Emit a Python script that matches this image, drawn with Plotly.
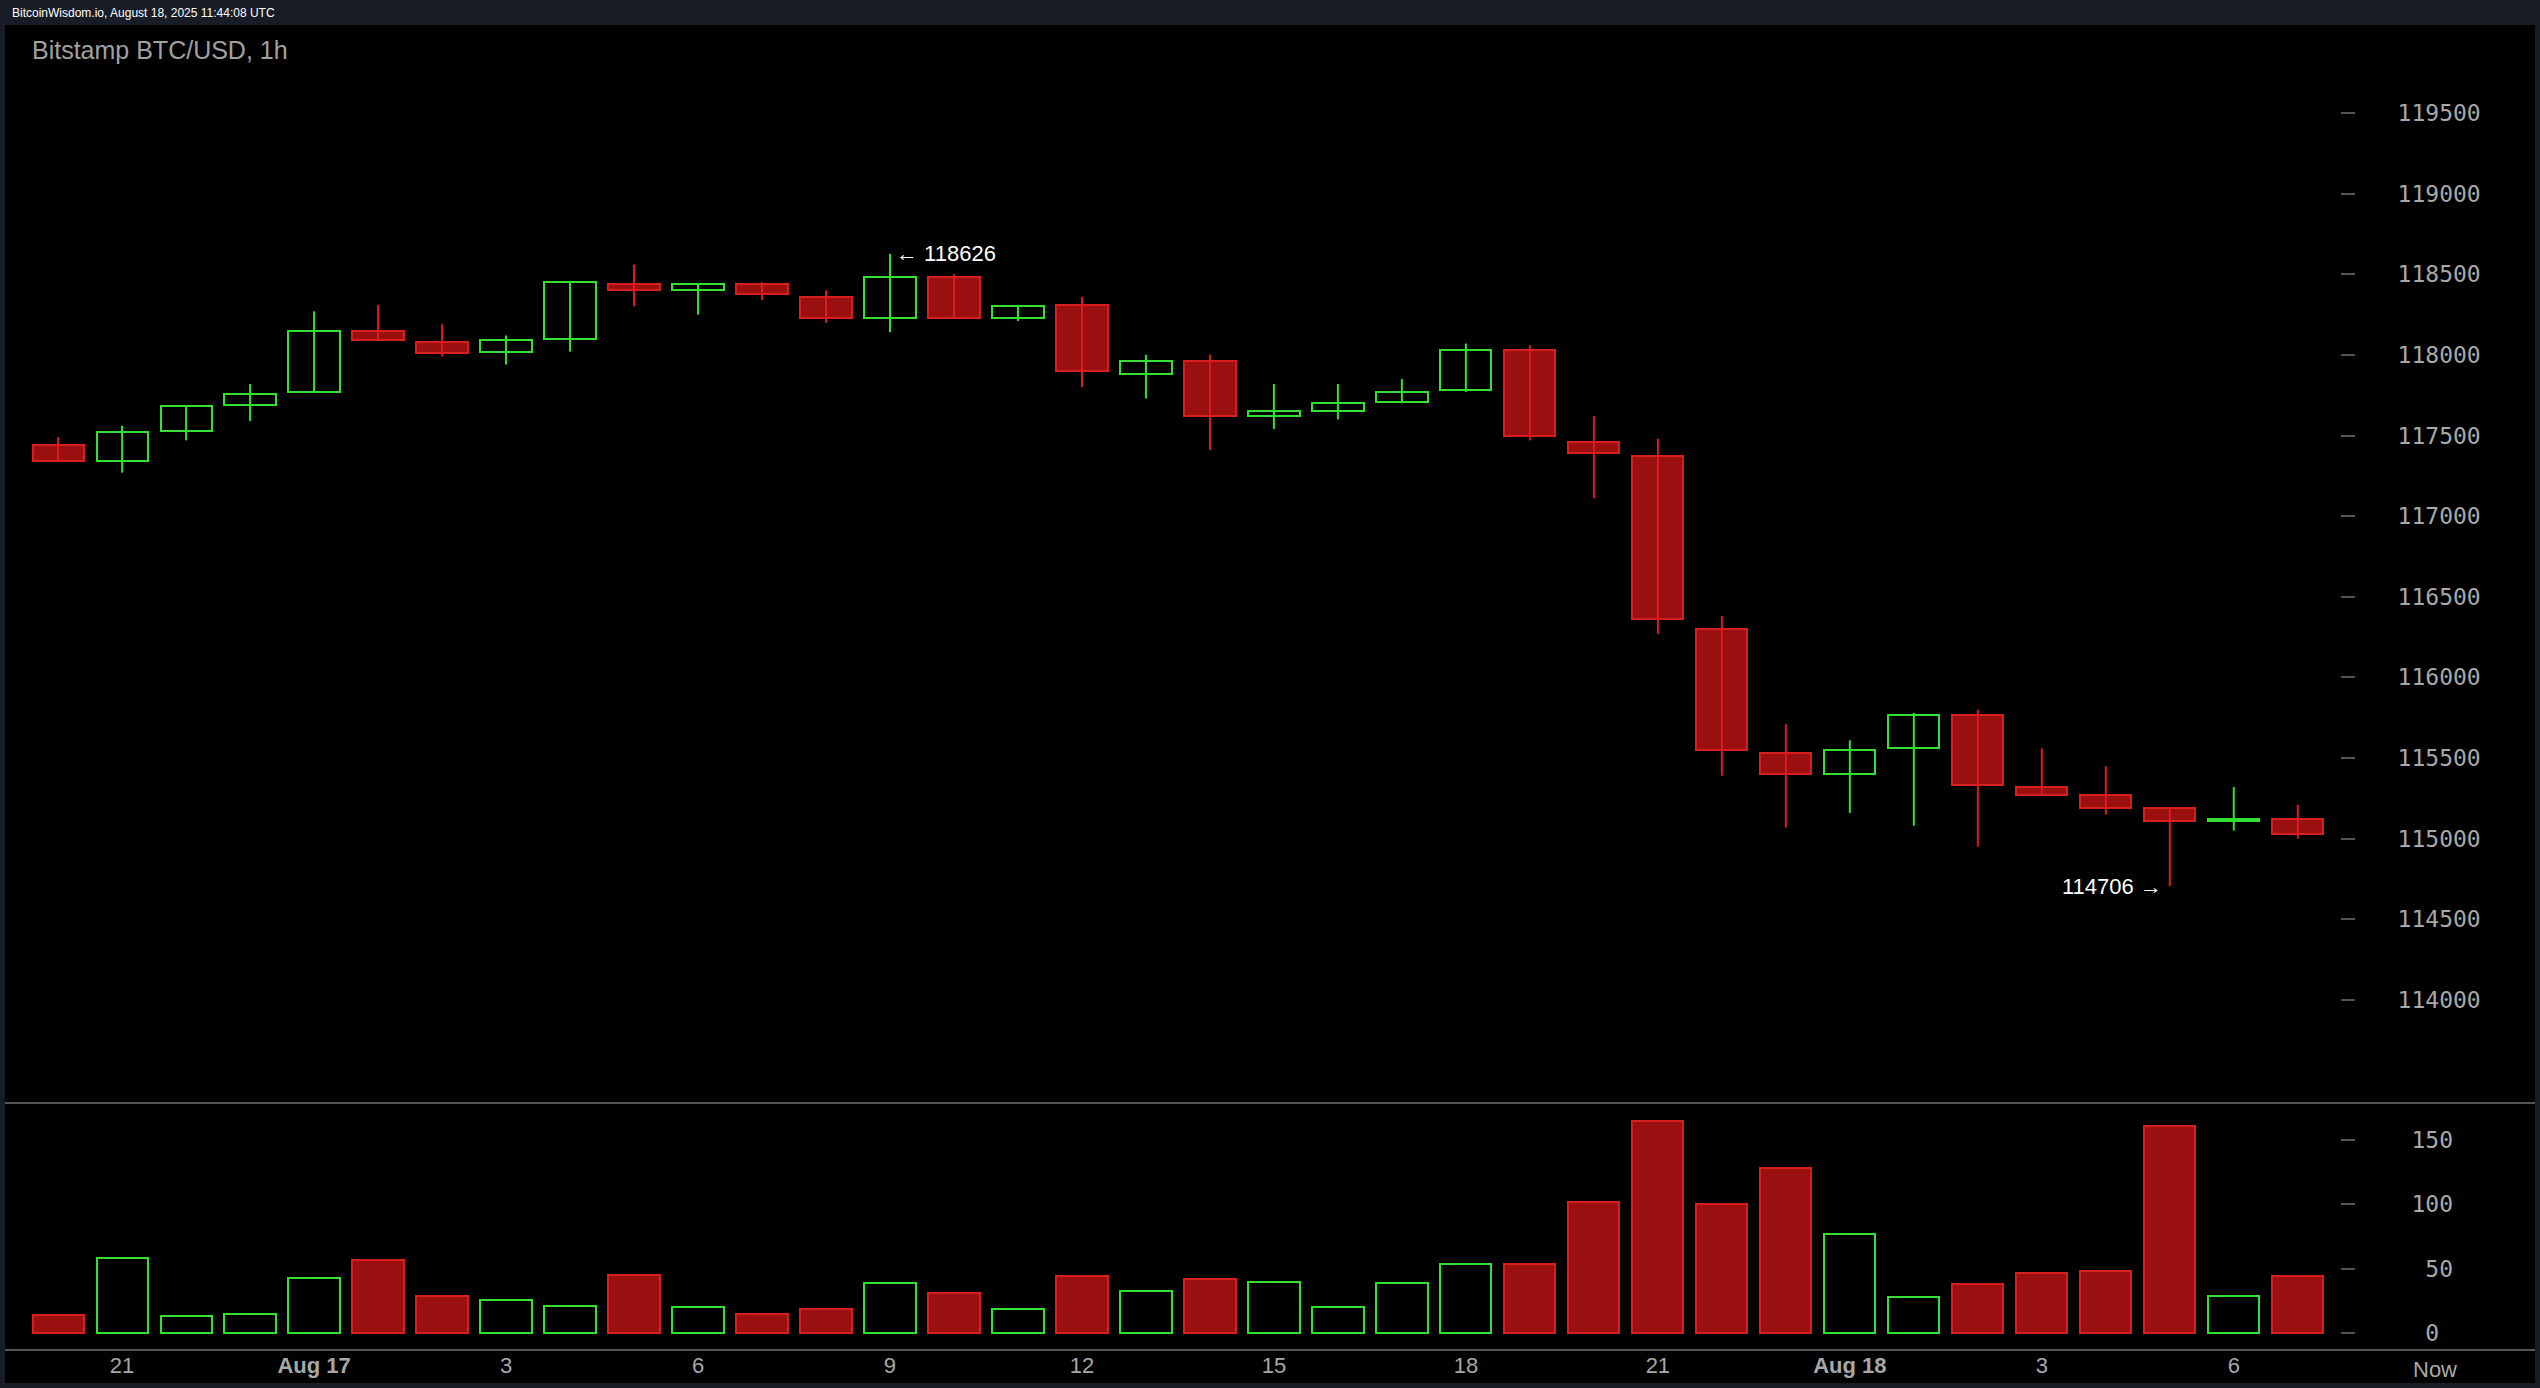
import plotly.graph_objects as go

W, H = 2540, 1388
hours = ["20","21","22","23","0","1","2","3","4","5","6","7","8","9","10","11","12","13","14","15","16","17","18","19","20","21","22","23","0","1","2","3","4","5","6","7"]
opens  = [117440,117340,117530,117690,117770,118150,118080,118020,118100,118440,118400,118440,118360,118230,118480,118230,118310,117880,117960,117620,117650,117710,117780,118030,117460,117370,116300,115530,115400,115560,115770,115320,115270,115190,115110,115120]
closes = [117340,117520,117680,117760,118150,118090,118010,118090,118450,118400,118440,118380,118230,118480,118230,118300,117900,117960,117620,117650,117700,117770,118030,117500,117390,116360,115550,115400,115550,115770,115330,115270,115190,115110,115120,115030]
highs  = [117490,117560,117680,117820,118270,118310,118190,118120,118450,118560,118440,118450,118400,118626,118500,118310,118360,118000,118000,117820,117820,117850,118070,118060,117620,117480,116380,115710,115610,115780,115800,115560,115450,115190,115320,115210]
lows   = [117340,117270,117470,117590,117770,118090,117990,117940,118020,118300,118250,118340,118200,118140,118230,118210,117800,117730,117410,117540,117600,117700,117770,117470,117110,116270,115390,115070,115160,115080,114950,115270,115150,114706,115050,115000]
volumes = [14,58,13,15,43,57,29,26,21,45,20,15,19,39,31,19,44,33,42,40,20,39,54,54,102,165,100,128,77,28,38,47,48,161,29,44]
price_ticks = [114000,114500,115000,115500,116000,116500,117000,117500,118000,118500,119000,119500]
price_labels = [str(v) for v in price_ticks]
vol_ticks = [0,50,100,150]
vol_labels = ["\u00a0\u00a00","\u00a0\u00a050","\u00a0100","\u00a0150"]

RED_FILL, RED_LINE, GREEN = "#9a0f0f", "#d81e1e", "#33e033"
n = len(opens)
xs = list(range(n))
up = [c >= o for o, c in zip(opens, closes)]

fig = go.Figure()
for is_up, col in [(True, GREEN), (False, RED_LINE)]:
    wx, wy = [], []
    for i in xs:
        if up[i] == is_up:
            wx += [i, i, None]; wy += [lows[i], highs[i], None]
    fig.add_trace(go.Scatter(x=wx, y=wy, mode="lines", line=dict(color=col, width=2), hoverinfo="skip", showlegend=False))
for is_up, fill, col in [(True, "#000000", GREEN), (False, RED_FILL, RED_LINE)]:
    idx = [i for i in xs if up[i] == is_up]
    fig.add_trace(go.Bar(x=idx, base=[min(opens[i], closes[i]) for i in idx],
                         y=[max(abs(closes[i]-opens[i]), 8) for i in idx], width=0.8,
                         marker=dict(color=fill, line=dict(color=col, width=2)), showlegend=False))
    fig.add_trace(go.Bar(x=idx, y=[volumes[i] for i in idx], width=0.8, xaxis="x2", yaxis="y2",
                         marker=dict(color=fill, line=dict(color=col, width=2)), showlegend=False))

xr = [-0.83, 35.66]
tick_idx = [i for i in xs if int(hours[i]) % 3 == 0]
tick_txt = [("<b>Aug 17</b>" if i < 20 else "<b>Aug 18</b>") if hours[i] == "0" else hours[i] for i in tick_idx]
dom_x = [5/W, 2340/W]
gray = "#a8a8a8"
fig.update_layout(
    width=W, height=H, margin=dict(l=0, r=0, t=0, b=0),
    paper_bgcolor="#181c27", plot_bgcolor="#000000", barmode="overlay", bargap=0,
    font=dict(family="Liberation Sans", color=gray, size=22),
    xaxis=dict(domain=dom_x, range=xr, showticklabels=False, showgrid=False, zeroline=False, anchor="y"),
    yaxis=dict(domain=[1-1103/H, 1-72/H], range=[113361, 119754], side="right", tickvals=price_ticks, ticktext=price_labels,
               showgrid=False, zeroline=False, ticks="outside", ticklen=14, tickcolor="#555", tickwidth=2,
               ticklabelstandoff=38, tickfont=dict(family="DejaVu Sans Mono", size=23, color=gray), anchor="x"),
    xaxis2=dict(domain=dom_x, range=xr, tickvals=tick_idx, ticktext=tick_txt, showgrid=False, zeroline=False,
                anchor="y2", tickfont=dict(size=22, color=gray)),
    yaxis2=dict(domain=[1-1350/H, 1-1103/H], range=[-13.2, 178.8], side="right", tickvals=vol_ticks, ticktext=vol_labels,
                showgrid=False, zeroline=False, ticks="outside", ticklen=14, tickcolor="#555", tickwidth=2,
                ticklabelstandoff=38, tickfont=dict(family="DejaVu Sans Mono", size=23, color=gray), anchor="x2"),
)
fig.add_shape(type="rect", xref="paper", yref="paper", x0=5/W, x1=2535/W, y0=1-1383/H, y1=1-25/H,
              fillcolor="#000000", line=dict(width=0), layer="below")
for yy in [1103, 1350]:
    fig.add_shape(type="line", xref="paper", yref="paper", x0=5/W, x1=2535/W, y0=1-yy/H, y1=1-yy/H,
                  line=dict(color="#555555", width=2))
fig.add_annotation(xref="paper", yref="paper", x=30/W, y=1-50/H, text="Bitstamp BTC/USD, 1h", showarrow=False,
                   xanchor="left", yanchor="middle", font=dict(size=25, color="#a0a0a0", family="Liberation Sans"))
fig.add_annotation(xref="paper", yref="paper", x=10/W, y=1-13/H, text="BitcoinWisdom.io, August 18, 2025 11:44:08 UTC",
                   showarrow=False, xanchor="left", yanchor="middle", font=dict(size=12, color="#ffffff"))
fig.add_annotation(xref="paper", yref="paper", x=2435/W, y=1-1369/H, text="Now", showarrow=False,
                   xanchor="center", yanchor="middle", font=dict(size=22, color=gray))
hi_i = highs.index(max(highs)); lo_i = lows.index(min(lows))
fig.add_annotation(x=hi_i, y=highs[hi_i], text="\u2190 " + str(highs[hi_i]), showarrow=False, xanchor="left",
                   xshift=4, font=dict(size=22, color="#ffffff"))
fig.add_annotation(x=lo_i, y=lows[lo_i], text=str(lows[lo_i]) + " \u2192", showarrow=False, xanchor="right",
                   xshift=-6, font=dict(size=22, color="#ffffff"))
fig.write_html("out.html", config={"displayModeBar": False},
               post_script="document.body.style.margin='0';document.body.style.background='#181c27';document.body.style.overflow='hidden';")
